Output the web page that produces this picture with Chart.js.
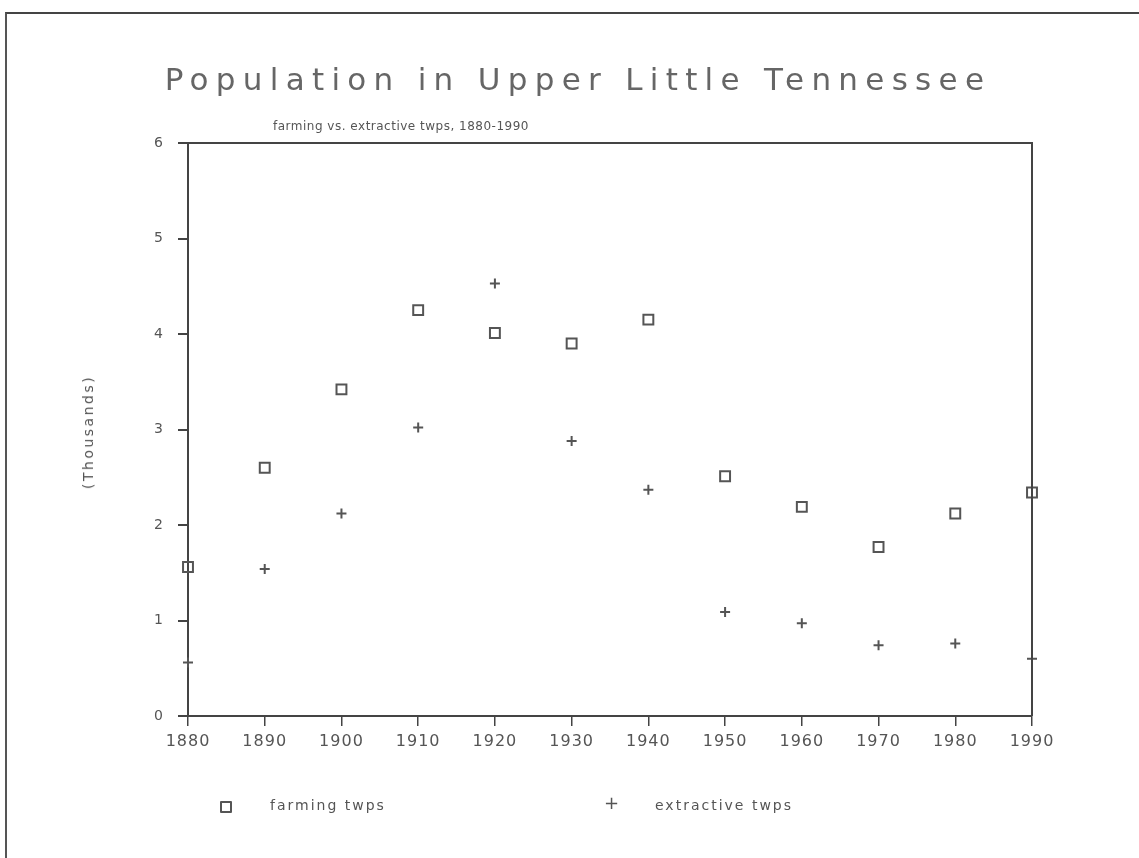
<!DOCTYPE html>
<html>
<head>
<meta charset="utf-8">
<script src="https://cdn.jsdelivr.net/npm/chart.js@4"></script>
<style>
  html, body { margin: 0; padding: 0; background: #fff; }
  #wrap { position: relative; width: 1139px; height: 858px; overflow: hidden; font-family: "DejaVu Sans", sans-serif; color: #666; }
  #frame { position: absolute; left: 5px; top: 12px; width: 1200px; height: 900px; border-top: 2px solid #444; border-left: 2px solid #555; }
  #pop-chart { position: absolute; left: 0; top: 0; }
  .txt { position: absolute; white-space: nowrap; transform: translate(-50%, -50%); }
  #title { left: 578px; top: 79px; font-size: 31px; letter-spacing: 7.3px; color: #666; }
  #subtitle { left: 401px; top: 126px; font-size: 12px; letter-spacing: 0.5px; color: #555; }
  #ylabel { left: 88px; top: 432px; font-size: 14px; letter-spacing: 2.5px; color: #555; transform: translate(-50%, -50%) rotate(-90deg); }
  .legend-item { position: absolute; top: 797px; font-size: 14px; letter-spacing: 2px; color: #555; }
  .box { position: absolute; width: 8px; height: 8px; border: 2px solid #555; border-radius: 1px; }
  .plus { position: absolute; font-size: 18px; color: #555; }
</style>
</head>
<body>
<div id="wrap">
  <div id="frame"></div>
  <canvas id="pop-chart" width="1139" height="858"></canvas>
  <div id="title" class="txt">Population in Upper Little Tennessee</div>
  <div id="subtitle" class="txt">farming vs. extractive twps, 1880-1990</div>
  <div id="ylabel" class="txt">(Thousands)</div>
  <span class="box" style="left:220px; top:801px;"></span>
  <div class="legend-item" style="left:270px;">farming twps</div>
  <span class="plus" style="left:604px; top:792px;">+</span>
  <div class="legend-item" style="left:655px;">extractive twps</div>
</div>
<script>
const years = [1880, 1890, 1900, 1910, 1920, 1930, 1940, 1950, 1960, 1970, 1980, 1990];
// population in thousands
const farming = [1.56, 2.60, 3.42, 4.25, 4.01, 3.90, 4.15, 2.51, 2.19, 1.77, 2.12, 2.34];
const extractive = [0.56, 1.54, 2.12, 3.02, 4.53, 2.88, 2.37, 1.09, 0.97, 0.74, 0.76, 0.60];
const yTicks = [0, 1, 2, 3, 4, 5, 6];

const ink = '#555';

function toPoints(vals) {
  return years.map((yr, i) => ({ x: yr, y: vals[i] }));
}

// box the plot area (top + right edges) and set spacing on text
const framePlugin = {
  id: 'plotFrame',
  beforeUpdate(chart) { chart.ctx.letterSpacing = '1px'; },
  beforeDraw(chart) { chart.ctx.letterSpacing = '1px'; },
  afterDraw(chart) {
    const { ctx, chartArea: a } = chart;
    ctx.save();
    ctx.strokeStyle = '#444';
    ctx.lineWidth = 2;
    ctx.beginPath();
    ctx.moveTo(a.left - 10, a.top);
    ctx.lineTo(a.right, a.top);
    ctx.lineTo(a.right, a.bottom);
    ctx.stroke();
    ctx.restore();
  }
};

new Chart(document.getElementById('pop-chart'), {
  type: 'scatter',
  data: {
    datasets: [{
      label: 'farming twps',
      data: toPoints(farming),
      clip: false,
      pointStyle: 'rect',
      pointRadius: 7,
      pointHoverRadius: 7,
      pointBorderWidth: 2,
      borderColor: ink,
      backgroundColor: 'transparent'
    }, {
      label: 'extractive twps',
      data: toPoints(extractive),
      clip: false,
      pointStyle: 'cross',
      pointRadius: 5,
      pointHoverRadius: 5,
      pointBorderWidth: 2,
      borderColor: ink,
      backgroundColor: ink
    }]
  },
  options: {
    responsive: false,
    animation: false,
    layout: { padding: { left: 120, top: 143, right: 107, bottom: 100 } },
    scales: {
      x: {
        type: 'linear',
        min: 1880,
        max: 1990,
        afterFit: s => { s.height = 42; },
        ticks: {
          stepSize: 10,
          padding: 6,
          color: ink,
          font: { family: 'DejaVu Sans', size: 16 },
          callback: v => String(v)
        },
        grid: { drawOnChartArea: false, tickLength: 10, color: '#444', lineWidth: 1.5 },
        border: { color: '#444', width: 2 }
      },
      y: {
        min: 0,
        max: 6,
        afterFit: s => { s.width = 68; },
        afterBuildTicks: s => { s.ticks = yTicks.map(v => ({ value: v })); },
        ticks: {
          padding: 14,
          color: ink,
          font: { family: 'DejaVu Sans', size: 14 }
        },
        grid: { drawOnChartArea: false, tickLength: 10, color: '#444', lineWidth: 2 },
        border: { color: '#444', width: 2 }
      }
    },
    plugins: {
      legend: { display: false },
      tooltip: { enabled: false }
    }
  },
  plugins: [framePlugin]
});
</script>
</body>
</html>
